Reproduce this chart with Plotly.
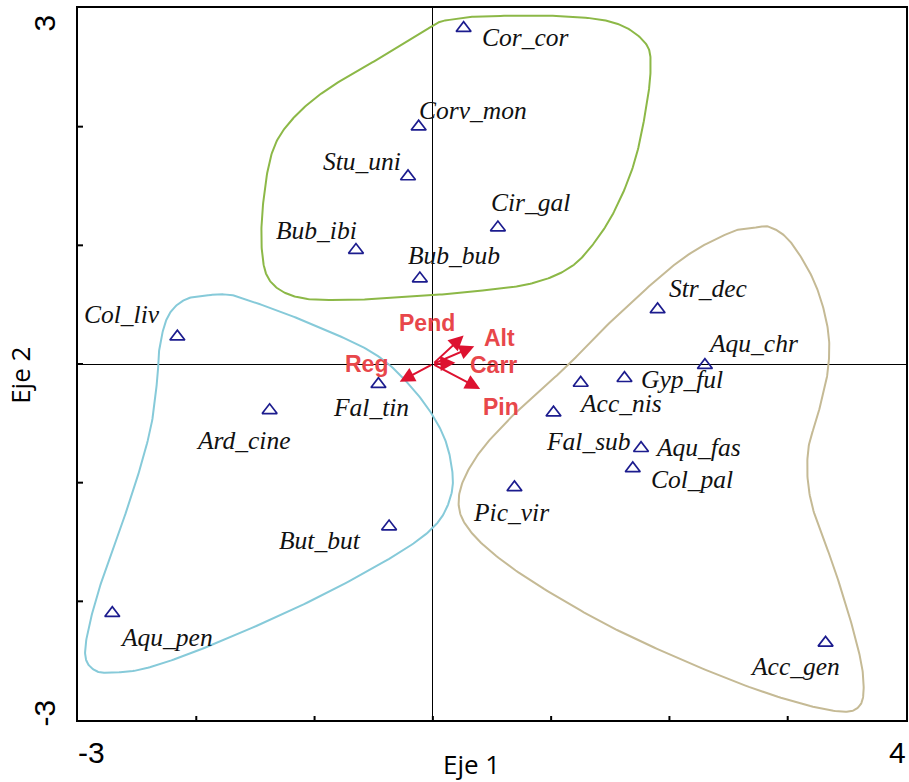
import numpy as np
import plotly.graph_objects as go

# ---- data ----
species = ["Cor_cor", "Corv_mon", "Stu_uni", "Cir_gal", "Bub_ibi", "Bub_bub",
           "Col_liv", "Fal_tin", "Ard_cine", "But_but", "Aqu_pen",
           "Str_dec", "Aqu_chr", "Gyp_ful", "Acc_nis", "Fal_sub", "Aqu_fas",
           "Col_pal", "Pic_vir", "Acc_gen"]
eje1 = [0.26, -0.12, -0.21, 0.55, -0.65, -0.11,
        -2.16, -0.46, -1.38, -0.37, -2.71,
        1.90, 2.30, 1.62, 1.25, 1.02, 1.76,
        1.69, 0.69, 3.32]
eje2 = [2.83, 2.00, 1.58, 1.15, 0.96, 0.72,
        0.23, -0.17, -0.39, -1.37, -2.10,
        0.46, -0.01, -0.12, -0.16, -0.41, -0.71,
        -0.88, -1.04, -2.35]

variables = ["Pend", "Alt", "Carr", "Pin", "Reg"]
var_eje1 = [0.26, 0.35, 0.19, 0.40, -0.28]
var_eje2 = [0.24, 0.15, 0.01, -0.21, -0.15]

# group outlines (hand-drawn envelopes)
green_x = [0.14, 0.42, 1.12, 1.55, 1.80, 1.84, 1.80, 1.71, 1.57, 1.40, 1.17, 0.84, 0.42, -0.01,
           -0.71, -1.13, -1.36, -1.44, -1.44, -1.36, -1.19, -0.90, -0.48, -0.14, 0.03]
green_y = [2.90, 2.93, 2.93, 2.87, 2.70, 2.48, 2.14, 1.72, 1.36, 1.07, 0.82, 0.68, 0.62, 0.58,
           0.54, 0.56, 0.68, 0.90, 1.30, 1.78, 2.06, 2.31, 2.56, 2.76, 2.87]
blue_x = [-1.90, -2.10, -2.24, -2.31, -2.33, -2.39, -2.55, -2.75, -2.88, -2.94, -2.86, -2.69,
          -2.41, -1.90, -1.06, -0.35, 0.01, 0.15, 0.16, 0.07, -0.16, -0.50, -1.06, -1.48, -1.70]
blue_y = [0.58, 0.54, 0.40, 0.14, -0.13, -0.56, -1.12, -1.68, -2.10, -2.44, -2.58, -2.60,
          -2.56, -2.38, -2.01, -1.63, -1.37, -1.12, -0.87, -0.56, -0.22, 0.09, 0.35, 0.51, 0.58]
beige_x = [2.73, 2.52, 2.10, 1.55, 1.12, 0.70, 0.37, 0.22, 0.31, 0.70, 1.40, 2.10, 2.81, 3.37,
           3.60, 3.64, 3.57, 3.40, 3.20, 3.17, 3.26, 3.34, 3.34, 3.23, 3.03, 2.86]
beige_y = [1.15, 1.11, 0.88, 0.40, -0.03, -0.41, -0.78, -1.12, -1.40, -1.74, -2.16, -2.49, -2.77, -2.92,
           -2.89, -2.66, -2.30, -1.74, -1.17, -0.75, -0.41, -0.05, 0.29, 0.68, 1.02, 1.15]

x_ticks = [-3, -2, -1, 0, 1, 2, 3, 4]
y_ticks = [-3, -2, -1, 0, 1, 2, 3]

# label offsets in pixels (xshift, yshift, xanchor)
label_pos = {
    "Cor_cor": (16, -9, "left"), "Corv_mon": (-2, 16, "left"), "Stu_uni": (-5, 15, "right"),
    "Cir_gal": (-9, 25, "left"), "Bub_ibi": (3, 20, "right"), "Bub_bub": (-14, 23, "left"),
    "Col_liv": (-15, 22, "right"), "Fal_tin": (-7, -23, "center"), "Ard_cine": (23, -30, "right"),
    "But_but": (-26, -14, "right"), "Aqu_pen": (6, -24, "left"), "Str_dec": (9, 21, "left"),
    "Aqu_chr": (1, 22, "left"), "Gyp_ful": (15, -1, "left"), "Acc_nis": (-4, -21, "left"),
    "Fal_sub": (-10, -29, "left"), "Aqu_fas": (12, 1, "left"), "Col_pal": (16, -11, "left"),
    "Pic_vir": (-3, -25, "center"), "Acc_gen": (16, -24, "right"),
}
var_label_pos = {"Pend": (-37, 13), "Alt": (25, 8), "Carr": (38, -2), "Pin": (21, -18), "Reg": (-33, 18)}


def smooth_closed(xs, ys, n=24):
    pts = np.column_stack([xs, ys])
    N = len(pts)
    t = np.linspace(0, 1, n, endpoint=False)[:, None]
    segs = []
    for i in range(N):
        p0, p1, p2, p3 = pts[(i - 1) % N], pts[i], pts[(i + 1) % N], pts[(i + 2) % N]
        segs.append(0.5 * (2 * p1 + (-p0 + p2) * t + (2 * p0 - 5 * p1 + 4 * p2 - p3) * t ** 2
                           + (-p0 + 3 * p1 - 3 * p2 + p3) * t ** 3))
    out = np.vstack(segs + [pts[:1]])
    return out[:, 0], out[:, 1]


fig = go.Figure()

for xs, ys, col in [(green_x, green_y, "#8CB847"), (blue_x, blue_y, "#86CAD9"),
                    (beige_x, beige_y, "#C5BA95")]:
    sx, sy = smooth_closed(xs, ys)
    fig.add_trace(go.Scatter(x=sx, y=sy, mode="lines", line=dict(color=col, width=2),
                             hoverinfo="skip", showlegend=False))

fig.add_trace(go.Scatter(x=eje1, y=eje2, mode="markers", text=species,
                         marker=dict(symbol="triangle-up-open", size=13, color="#1c1c8e",
                                     line=dict(width=1.7, color="#1c1c8e")),
                         showlegend=False))

annotations = []
for name, x, y in zip(species, eje1, eje2):
    dx, dy, anc = label_pos[name]
    annotations.append(dict(x=x, y=y, xref="x", yref="y", text="<i>" + name + "</i>",
                            showarrow=False, xshift=dx, yshift=dy, xanchor=anc, yanchor="middle",
                            font=dict(family="Liberation Serif, Times New Roman, serif",
                                      size=25.5, color="#111111")))

for name, x, y in zip(variables, var_eje1, var_eje2):
    annotations.append(dict(x=x, y=y, xref="x", yref="y", ax=0, ay=0, axref="x", ayref="y",
                            text="", showarrow=True, arrowhead=2, arrowsize=1.5, arrowwidth=2,
                            arrowcolor="#DD1230", standoff=0, startstandoff=0))
    dx, dy = var_label_pos[name]
    annotations.append(dict(x=x, y=y, xref="x", yref="y", text="<b>" + name + "</b>",
                            showarrow=False, xshift=dx, yshift=dy, xanchor="center", yanchor="middle",
                            font=dict(family="Liberation Sans", size=23, color="#E8474B")))

# tick labels (only the ends are labelled)
tick_font = dict(family="Liberation Sans", size=30, color="black")
annotations.append(dict(x=x_ticks[0], y=0, xref="x", yref="paper", text="-3", showarrow=False,
                        xanchor="left", yanchor="top", yshift=-14, xshift=-2, font=tick_font))
annotations.append(dict(x=x_ticks[-1], y=0, xref="x", yref="paper", text="4", showarrow=False,
                        xanchor="right", yanchor="top", yshift=-14, xshift=2, font=tick_font))
annotations.append(dict(x=0, y=y_ticks[-1], xref="paper", yref="y", text="3", showarrow=False,
                        textangle=-90, xanchor="right", yanchor="middle", xshift=-16, yshift=-15,
                        font=tick_font))
annotations.append(dict(x=0, y=y_ticks[0], xref="paper", yref="y", text="-3", showarrow=False,
                        textangle=-90, xanchor="right", yanchor="middle", xshift=-16, yshift=7,
                        font=tick_font))
title_font = dict(family="Open Sans", size=26, color="black")
annotations.append(dict(x=0.475, y=0, xref="paper", yref="paper", text="Eje 1", showarrow=False,
                        xanchor="center", yanchor="middle", yshift=-44, font=title_font))
annotations.append(dict(x=0, y=-0.1, xref="paper", yref="y", text="Eje 2", showarrow=False,
                        textangle=-90, xanchor="right", yanchor="middle", xshift=-38,
                        font=title_font))

# crossing tick marks
shapes = []
for v in x_ticks[1:-1]:
    shapes.append(dict(type="line", xref="x", yref="y", x0=v, x1=v, ysizemode="pixel",
                       yanchor=y_ticks[0], y0=-5, y1=4, line=dict(color="black", width=2)))
for v in y_ticks[1:-1]:
    shapes.append(dict(type="line", xref="x", yref="y", y0=v, y1=v, xsizemode="pixel",
                       xanchor=x_ticks[0], x0=-5, x1=5, line=dict(color="black", width=2)))

axis_common = dict(showgrid=False, showline=True, linecolor="black", linewidth=2, mirror=True,
                   zeroline=True, zerolinecolor="black", zerolinewidth=1,
                   showticklabels=False, ticks="")
fig.update_layout(
    width=909, height=782,
    margin=dict(l=78, r=1, t=8, b=62),
    paper_bgcolor="white", plot_bgcolor="white",
    xaxis=dict(range=[x_ticks[0], x_ticks[-1]], **axis_common),
    yaxis=dict(range=[y_ticks[0], y_ticks[-1]], **axis_common),
    annotations=annotations,
    shapes=shapes,
    showlegend=False,
)

fig.write_html("out.html")
